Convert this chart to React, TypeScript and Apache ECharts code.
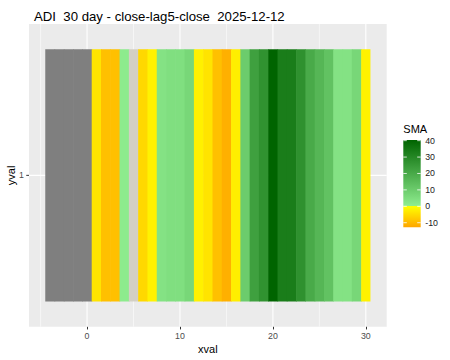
import React, { useEffect, useRef } from "react";
import * as echarts from "echarts";

const titleText = "ADI  30 day - close-lag5-close  2025-12-12";
const xVals = [-4, -3, -2, -1, 0, 1, 2, 3, 4, 5, 6, 7, 8, 9, 10, 11, 12, 13, 14, 15, 16, 17, 18, 19, 20, 21, 22, 23, 24, 25, 26, 27, 28, 29, 30];
const smaVals: (number | null)[] = [
  null, null, null, null, null,
  -3.8, -9, -9, 0.8, 0, -5.5, -1.8, 3.4, 4.5, 4.5,
  6.7, -2, -3.8, -9, -11.2, -2.4, 10, 22.7, 27, 40.4,
  33, 33, 27.2, 20, 16.3, 12.9, 3.4, 3.4, 6.7, -1.8,
];
const xMajor = [0, 10, 20, 30];
const xMinor = [-5, 5, 15, 25];
const yCats = [1];
const legendTicks = [40, 30, 20, 10, 0, -10];
const scaleMin = -12.8;
const scaleMax = 40.4;

const NA_COLOR = "#7F7F7F";
const ZERO_COLOR = "#D3CFC4";
const hex = (c: number[]) => "#" + c.map((v) => Math.round(v).toString(16).padStart(2, "0")).join("");
const lerp = (a: number[], b: number[], t: number) => a.map((v, i) => v + (b[i] - v) * t);
const DARKGREEN = [0, 100, 0];
const LIGHTGREEN = [144, 238, 144];
const YELLOW = [255, 255, 0];
const ORANGE = [255, 165, 0];

function colorFor(v: number | null): string {
  if (v === null) return NA_COLOR;
  if (v === 0) return ZERO_COLOR;
  if (v > 0) return hex(lerp(LIGHTGREEN, DARKGREEN, Math.min(1, v / scaleMax)));
  return hex(lerp(YELLOW, ORANGE, Math.min(1, v / scaleMin)));
}

const FONT = "'Liberation Sans', Arial, Helvetica, sans-serif";

export default function App() {
  const ref = useRef<HTMLDivElement>(null);
  useEffect(() => {
    if (!ref.current) return;
    const chart = echarts.init(ref.current, undefined, { renderer: "svg" });
    const gridL = 29, gridT = 24, gridW = 357.7, gridH = 302.7;
    const xMin = -6.25, xMax = 32.25;
    const barX = 403.3, barY = 140, barW = 17.4, barH = 87.3;
    const pxPerUnit = barH / (scaleMax - scaleMin);
    const zeroOff = scaleMax / (scaleMax - scaleMin);

    const legendGraphics: any[] = [
      { type: "text", x: barX, y: 129, style: { text: "SMA", font: `11px ${FONT}`, fill: "#000", verticalAlign: "middle" } },
      {
        type: "rect",
        shape: { x: barX, y: barY, width: barW, height: barH },
        style: {
          fill: new echarts.graphic.LinearGradient(0, 0, 0, 1, [
            { offset: 0, color: hex(DARKGREEN) },
            { offset: zeroOff, color: hex(LIGHTGREEN) },
            { offset: zeroOff, color: hex(YELLOW) },
            { offset: 1, color: hex(ORANGE) },
          ]),
        },
      },
    ];
    legendTicks.forEach((t) => {
      const y = barY + (scaleMax - t) * pxPerUnit;
      legendGraphics.push(
        { type: "line", shape: { x1: barX, y1: y, x2: barX + 3.5, y2: y }, style: { stroke: "#fff", lineWidth: 0.8 } },
        { type: "line", shape: { x1: barX + barW - 3.5, y1: y, x2: barX + barW, y2: y }, style: { stroke: "#fff", lineWidth: 0.8 } },
        { type: "text", x: barX + barW + 4.5, y, style: { text: String(t), font: `8.8px ${FONT}`, fill: "#1a1a1a", verticalAlign: "middle", align: "left" } }
      );
    });

    const lineSeries = (vals: number[], horizontal: boolean, width: number) => ({
      type: "custom",
      z: 1,
      silent: true,
      data: vals.map((v) => (horizontal ? [xMin, v] : [v, 1])),
      renderItem: (params: any, api: any) => {
        const a = horizontal ? api.coord([xMin, api.value(1)]) : api.coord([api.value(0), 0.4]);
        const b = horizontal ? api.coord([xMax, api.value(1)]) : api.coord([api.value(0), 1.6]);
        return { type: "line", shape: { x1: a[0], y1: a[1], x2: b[0], y2: b[1] }, style: { stroke: "#fff", lineWidth: width } };
      },
    });

    chart.setOption({
      animation: false,
      title: {
        text: titleText,
        left: 29,
        top: 5,
        textStyle: { fontSize: 13.2, fontWeight: "normal", color: "#000", fontFamily: FONT },
      },
      grid: {
        left: gridL, top: gridT, width: gridW, height: gridH,
        show: true, backgroundColor: "#EBEBEB", borderWidth: 0,
        containLabel: false,
        outerBoundsMode: "none",
      },
      xAxis: {
        type: "value",
        min: xMin,
        max: xMax,
        name: "xval",
        nameLocation: "middle",
        nameGap: 17,
        nameMoveOverlap: false,
        nameTextStyle: { fontSize: 11, color: "#000", fontFamily: FONT },
        axisLine: { show: false },
        axisTick: { show: true, inside: false, customValues: xMajor, length: 2.75, lineStyle: { color: "#333", width: 1 } },
        axisLabel: { customValues: xMajor, inside: false, margin: 4.5, fontSize: 8.8, color: "#4D4D4D", fontFamily: FONT },
        splitLine: { show: false },
      },
      yAxis: {
        type: "value",
        position: "left",
        min: 0.4,
        max: 1.6,
        name: "yval",
        nameLocation: "middle",
        nameGap: 13,
        nameRotate: 90,
        nameMoveOverlap: false,
        nameTextStyle: { fontSize: 11, color: "#000", fontFamily: FONT },
        axisLine: { show: false },
        axisTick: { show: false },
        axisLabel: { show: false },
        splitLine: { show: false },
      },
      series: [
        lineSeries(xMinor, false, 0.55),
        lineSeries(xMajor, false, 1.1),
        lineSeries(yCats, true, 1.1),
        {
          type: "custom",
          z: 2,
          data: xVals.map((x) => [x, yCats[0]]),
          renderItem: (params: any, api: any) => {
            const x = api.value(0);
            const y = api.value(1);
            const a = api.coord([x - 0.5, y + 0.5]);
            const b = api.coord([x + 0.5, y - 0.5]);
            const last = params.dataIndex === xVals.length - 1;
            return {
              type: "rect",
              shape: { x: a[0], y: a[1], width: b[0] - a[0] + (last ? 0 : 0.6), height: b[1] - a[1] },
              style: { fill: colorFor(smaVals[params.dataIndex]) },
            };
          },
        },
      ],
      graphic: legendGraphics,
    });

    // y-axis tick and label for the single category, positioned through the axis scale
    const yGraphics: any[] = [];
    yCats.forEach((c) => {
      const p = chart.convertToPixel({ gridIndex: 0 }, [xMin, c]) as number[];
      yGraphics.push(
        { type: "line", shape: { x1: p[0] - 2.75, y1: p[1], x2: p[0], y2: p[1] }, style: { stroke: "#333", lineWidth: 1 } },
        { type: "text", x: p[0] - 5, y: p[1], style: { text: String(c), font: `8.8px ${FONT}`, fill: "#4D4D4D", align: "right", verticalAlign: "middle" } }
      );
    });
    chart.setOption({ graphic: [...legendGraphics, ...yGraphics] });

    return () => chart.dispose();
  }, []);
  return <div ref={ref} style={{ width: 450, height: 360, position: "absolute", left: 0, top: 0 }} />;
}
